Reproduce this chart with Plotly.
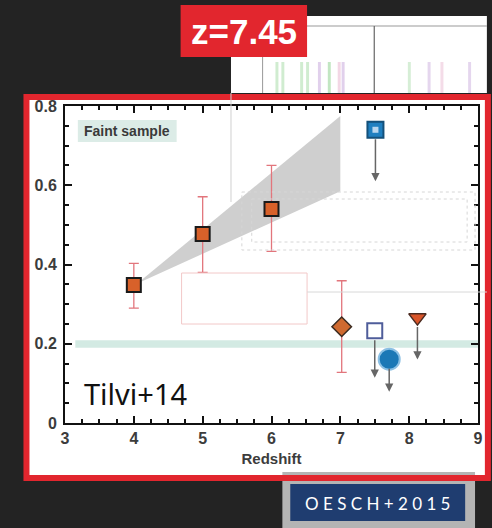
import plotly.graph_objects as go

# ---------------- data ----------------
z_det = [4.0, 5.0, 6.0]
frac_det = [0.348, 0.477, 0.540]
err_hi_det = [0.055, 0.094, 0.110]
err_lo_det = [0.058, 0.097, 0.107]

z_diam = [7.02]
frac_diam = [0.243]
err_hi_diam = [0.116]
err_lo_diam = [0.115]

z_tri = [8.12]
frac_tri = [0.266]
lim_tri = [0.160]

z_open = [7.50]
frac_open = [0.233]
lim_open = [0.114]

z_circ = [7.71]
frac_circ = [0.161]
lim_circ = [0.079]

z_bsq = [7.51]
frac_bsq = [0.740]
lim_bsq = [0.610]

wedge_x = [4.05, 7.0, 7.0, 4.05]
wedge_y = [0.352, 0.775, 0.585, 0.352]

x_ticks = [3, 4, 5, 6, 7, 8, 9]
y_ticks = [0, 0.2, 0.4, 0.6, 0.8]
y_ticktext = ["0", "0.2", "0.4", "0.6", "0.8"]

# ---------------- layout helpers ----------------
W, H = 492, 528
L, R, T, B = 65, 9, 106, 105
PW, PH = W - L - R, H - T - B


def px(x):
    return (x - L) / PW


def py(y):
    return (H - B - y) / PH


fig = go.Figure()

# wedge
fig.add_trace(go.Scatter(x=wedge_x, y=wedge_y, fill="toself", mode="lines",
                         line=dict(width=0), fillcolor="#cfcfcf",
                         hoverinfo="skip", showlegend=False))

err_col = "#e2757c"
# detections
fig.add_trace(go.Scatter(
    x=z_det, y=frac_det, mode="markers",
    error_y=dict(type="data", array=err_hi_det, arrayminus=err_lo_det,
                 color=err_col, thickness=1.3, width=5),
    marker=dict(symbol="square", size=14, color="#d8612a",
                line=dict(color="#1a1a1a", width=2)),
    showlegend=False))

fig.add_trace(go.Scatter(
    x=z_diam, y=frac_diam, mode="markers",
    error_y=dict(type="data", array=err_hi_diam, arrayminus=err_lo_diam,
                 color=err_col, thickness=1.3, width=5),
    marker=dict(symbol="diamond", size=15, color="#cf6a30",
                line=dict(color="#3a2a20", width=1.5)),
    showlegend=False))

fig.add_trace(go.Scatter(
    x=z_tri, y=frac_tri, mode="markers",
    marker=dict(symbol="triangle-down", size=15, color="#d9552a",
                line=dict(color="#4a2a20", width=1.5)),
    showlegend=False))

fig.add_trace(go.Scatter(
    x=z_open, y=frac_open, mode="markers",
    marker=dict(symbol="square", size=15, color="white",
                line=dict(color="#4f5d9a", width=2)),
    showlegend=False))

fig.add_trace(go.Scatter(
    x=z_circ, y=frac_circ, mode="markers",
    marker=dict(symbol="circle", size=21, color="#1b78b6",
                line=dict(color="#8cc0e4", width=2)),
    showlegend=False))

fig.add_trace(go.Scatter(
    x=z_bsq, y=frac_bsq, mode="markers",
    marker=dict(symbol="square", size=16, color="#1f7fc0",
                line=dict(color="#14507a", width=2)),
    showlegend=False))
fig.add_trace(go.Scatter(
    x=z_bsq, y=frac_bsq, mode="markers",
    marker=dict(symbol="square", size=6, color="#b9d6ee"),
    showlegend=False))

# upper-limit arrows
annotations = []
for xs, ys, ls in [(z_tri, frac_tri, lim_tri), (z_open, frac_open, lim_open),
                   (z_circ, frac_circ, lim_circ), (z_bsq, frac_bsq, lim_bsq)]:
    for xv, yv, lv in zip(xs, ys, ls):
        annotations.append(dict(
            x=xv, y=lv, ax=xv, ay=yv, xref="x", yref="y", axref="x", ayref="y",
            showarrow=True, arrowhead=2, arrowsize=1.1, arrowwidth=1.5,
            arrowcolor="#666666", startstandoff=8, text=""))


def txt(x, y, text, font, xanchor="center"):
    return dict(x=px(x), y=py(y), xref="paper", yref="paper", text=text,
                xanchor=xanchor, yanchor="middle", showarrow=False, font=font)


annotations += [
    txt(128, 131, "<b>Faint sample</b>",
        dict(family="Liberation Sans", size=14, color="#3a3a3a")),
    txt(82, 393, "Tilvi+14", dict(family="Noto Sans", size=29, color="#111111"),
        xanchor="left"),
    txt(246, 32, "<b>z=7.45</b>",
        dict(family="Liberation Sans", size=35, color="white")),
    txt(381, 503, "O E S C H + 2 0 1 5",
        dict(family="Lato", size=17, color="white")),
]

shapes = [
    # white panel
    dict(type="rect", xref="paper", yref="paper", layer="below",
         x0=px(26), x1=px(492), y0=py(98), y1=py(478),
         fillcolor="white", line=dict(width=0)),
    # spectrum inset
    dict(type="rect", xref="paper", yref="paper", layer="below",
         x0=px(233), x1=px(492), y0=py(16), y1=py(93),
         fillcolor="white", line=dict(width=0)),
    dict(type="line", xref="paper", yref="paper", layer="below",
         x0=px(265), x1=px(492), y0=py(26), y1=py(26),
         line=dict(color="#999999", width=1)),
    dict(type="line", xref="paper", yref="paper", layer="below",
         x0=px(265), x1=px(265), y0=py(26), y1=py(93),
         line=dict(color="#999999", width=1)),
    dict(type="line", xref="paper", yref="paper", layer="below",
         x0=px(378), x1=px(378), y0=py(26), y1=py(93),
         line=dict(color="#666666", width=1.2)),
    # OESCH badge
    dict(type="rect", xref="paper", yref="paper",
         x0=px(285), x1=px(480), y0=py(472), y1=py(528),
         fillcolor="#b4b4b4", line=dict(width=0)),
    dict(type="rect", xref="paper", yref="paper",
         x0=px(293), x1=px(470), y0=py(484), y1=py(521),
         fillcolor="#1f3d70", line=dict(width=0)),
    # red hand-drawn frame
    dict(type="rect", xref="paper", yref="paper",
         x0=px(26), x1=px(493), y0=py(97), y1=py(478),
         fillcolor="rgba(0,0,0,0)", line=dict(color="#e2262e", width=6)),
    # z label box
    dict(type="rect", xref="paper", yref="paper",
         x0=px(182), x1=px(310), y0=py(5), y1=py(57),
         fillcolor="#e2262e", line=dict(width=0)),
    # teal band at 0.2
    dict(type="rect", xref="x", yref="y", layer="below",
         x0=3.15, x1=9, y0=0.19, y1=0.209,
         fillcolor="#d3eae3", line=dict(width=0)),
    # Faint sample box
    dict(type="rect", xref="paper", yref="paper", layer="below",
         x0=px(78), x1=px(178), y0=py(120), y1=py(142),
         fillcolor="#dcece7", line=dict(width=0)),
    # overlay ghost outlines
    dict(type="rect", xref="paper", yref="paper",
         x0=px(183), x1=px(310), y0=py(273), y1=py(324),
         fillcolor="rgba(0,0,0,0)", line=dict(color="#f2c8c8", width=1)),
    dict(type="line", xref="paper", yref="paper",
         x0=px(310), x1=px(492), y0=py(292), y1=py(292),
         line=dict(color="#d8d8d8", width=1)),
    dict(type="line", xref="paper", yref="paper",
         x0=px(233), x1=px(233), y0=py(93), y1=py(202),
         line=dict(color="#d0d0d0", width=1)),
    dict(type="rect", xref="paper", yref="paper",
         x0=px(244), x1=px(480), y0=py(192), y1=py(250),
         fillcolor="rgba(0,0,0,0)", line=dict(color="#d6d6d6", width=1, dash="dot")),
    dict(type="rect", xref="paper", yref="paper",
         x0=px(254), x1=px(472), y0=py(199), y1=py(242),
         fillcolor="rgba(0,0,0,0)", line=dict(color="#d6d6d6", width=1, dash="dot")),
]

# faint spectrum bars in inset
for x0, col in [(278, "rgba(120,200,120,0.35)"), (284, "rgba(120,200,120,0.35)"),
                (303, "rgba(120,200,120,0.35)"), (309, "rgba(120,200,120,0.35)"),
                (321, "rgba(170,120,200,0.35)"), (331, "rgba(120,200,120,0.45)"),
                (341, "rgba(220,140,180,0.35)"), (345, "rgba(170,120,200,0.35)"),
                (412, "rgba(120,200,120,0.3)"), (432, "rgba(170,120,200,0.3)"),
                (445, "rgba(220,140,180,0.3)"), (473, "rgba(170,120,200,0.3)")]:
    shapes.append(dict(type="rect", xref="paper", yref="paper", layer="below",
                       x0=px(x0), x1=px(x0 + 3), y0=py(93), y1=py(62),
                       fillcolor=col, line=dict(width=0)))

tick_font = dict(family="Liberation Sans", size=16, color="#3c3c3c", weight="bold")
axis_common = dict(showline=True, linecolor="#111111", linewidth=2,
                   mirror="ticks", ticks="inside", tickcolor="#111111",
                   ticklen=7, tickwidth=1.5, showgrid=False, zeroline=False,
                   tickfont=tick_font)

fig.update_layout(
    width=W, height=H,
    margin=dict(l=L, r=R, t=T, b=B),
    paper_bgcolor="#232323",
    plot_bgcolor="rgba(0,0,0,0)",
    showlegend=False,
    xaxis=dict(range=[3, 9], tickvals=x_ticks, **axis_common,
               minor=dict(dtick=0.25, ticks="inside", ticklen=4,
                          tickcolor="#111111", showgrid=False),
               title=dict(text="Redshift", standoff=7,
                          font=dict(family="Liberation Sans", size=15,
                                    color="#3c3c3c", weight="bold"))),
    yaxis=dict(range=[0, 0.8], tickvals=y_ticks, ticktext=y_ticktext,
               **axis_common, ticklabelstandoff=3,
               minor=dict(dtick=0.05, ticks="inside", ticklen=4,
                          tickcolor="#111111", showgrid=False)),
    shapes=shapes,
    annotations=annotations,
)

fig.write_html("out.html")
